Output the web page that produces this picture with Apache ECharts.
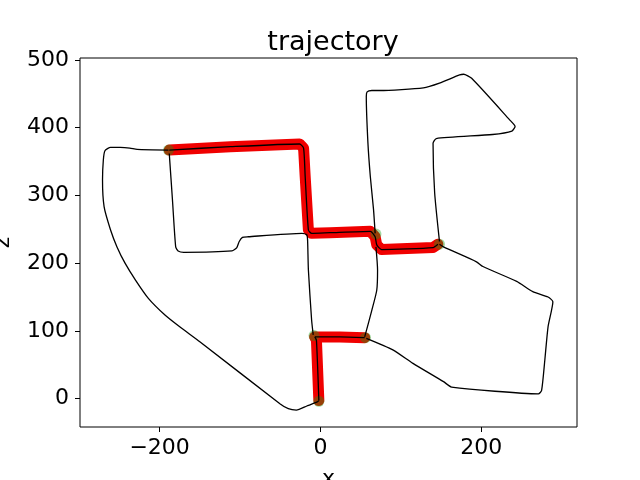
<!DOCTYPE html>
<html>
<head>
<meta charset="utf-8">
<script src="https://cdn.jsdelivr.net/npm/echarts@6/dist/echarts.min.js"></script>
<style>
  html, body { margin: 0; padding: 0; background: #fff; }
  #chart { width: 640px; height: 480px; }
</style>
</head>
<body>
<div id="chart"></div>
<script>
// ground truth trajectory, split at the junctions (x, z)
const leftLoop = [
  [-189, 367], [-228, 368], [-237, 370], [-249, 371], [-261, 371], [-268, 366],
  [-270, 352], [-271, 323], [-269, 283], [-261, 249], [-253, 224], [-243, 200],
  [-230, 175], [-214, 148], [-193, 123], [-175, 106], [-150, 84], [-50, -8],
  [-40, -15], [-30, -17], [-17, -11], [-4, -5], [-2, -3]
];
const westSpur = [
  [-188, 362], [-184, 293], [-180, 224], [-177, 218], [-170, 216], [-110, 218],
  [-104, 223], [-101, 232], [-97, 238], [-90, 239], [-23, 244], [-17, 242],
  [-16, 234], [-15, 190], [-11, 116], [-9, 94]
];
const redTop = [
  [-188, 367], [-112, 372], [-26, 376], [-21, 370], [-19, 328], [-15, 249],
  [-11, 244], [12, 245], [62, 247], [68, 239], [70, 227], [76, 220],
  [140, 223], [146, 228]
];
const northLoop = [
  [68, 244], [66, 279], [62, 328], [59, 378], [57, 446], [58, 453], [64, 455],
  [74, 455], [128, 459], [148, 466], [173, 478], [178, 479], [188, 473],
  [235, 412], [242, 402], [238, 395], [214, 390], [144, 384], [140, 377],
  [142, 304], [148, 232]
];
const middleLink = [
  [69, 224], [71, 190], [70, 160], [64, 131], [55, 91]
];
const eastLoop = [
  [148, 228], [153, 224], [194, 202], [202, 195], [244, 173], [264, 158],
  [283, 150], [289, 143], [283, 106], [279, 57], [275, 12], [271, 7],
  [163, 17], [153, 25], [115, 52], [90, 72], [57, 89]
];
const redSouthEast = [[-7, 91], [24, 91], [55, 90]];
const redSouth = [[-7, 91], [-5, 86], [-2, -3]];

const redPaths = [redTop, redSouthEast, redSouth];
const blackPaths = [leftLoop, westSpur, redTop, northLoop, middleLink, eastLoop, redSouthEast, redSouth];
const keyPoints = [[-189, 367], [69, 243], [148, 228], [56, 90], [-8, 93], [-2, -4]];

const xTicks = [-200, 0, 200];
const yTicks = [0, 100, 200, 300, 400, 500];

const font = 'DejaVu Sans';
const chart = echarts.init(document.getElementById('chart'), null, { renderer: 'canvas' });

const series = [];
redPaths.forEach(path => {
  series.push({
    type: 'line',
    data: path,
    symbol: 'none',
    z: 1,
    lineStyle: { color: '#f00000', width: 11, cap: 'round', join: 'round' }
  });
});
series.push({
  type: 'scatter',
  data: keyPoints,
  symbolSize: 11,
  z: 2,
  itemStyle: { color: 'rgba(20,160,20,0.5)' }
});
blackPaths.forEach(path => {
  series.push({
    type: 'line',
    data: path,
    symbol: 'none',
    smooth: 0.2,
    z: 3,
    lineStyle: { color: '#000', width: 1.3 }
  });
});

chart.setOption({
  animation: false,
  title: {
    text: 'trajectory',
    left: 328,
    top: 24,
    textAlign: 'center',
    textStyle: { fontFamily: font, fontSize: 27, fontWeight: 'normal', color: '#000' }
  },
  grid: {
    left: 80, right: 63, top: 58, bottom: 53,
    containLabel: false,
    outerBoundsMode: 'none',
    show: true, borderColor: '#000', borderWidth: 1
  },
  xAxis: {
    type: 'value',
    min: -299,
    max: 319,
    name: 'x',
    nameLocation: 'middle',
    nameGap: 41,
    nameTextStyle: { fontFamily: font, fontSize: 22, color: '#000' },
    axisLine: { show: false, onZero: false },
    axisTick: { show: true, inside: false, length: 5, customValues: xTicks, lineStyle: { color: '#000' } },
    axisLabel: {
      customValues: xTicks,
      margin: 10,
      fontFamily: font, fontSize: 22, color: '#000',
      formatter: v => String(v).replace('-', '\u2212')
    },
    splitLine: { show: false }
  },
  yAxis: {
    type: 'value',
    min: -42,
    max: 503,
    name: 'z',
    nameLocation: 'middle',
    nameRotate: 90,
    nameGap: 66,
    nameTextStyle: { fontFamily: font, fontSize: 22, color: '#000' },
    axisLine: { show: false, onZero: false },
    axisTick: { show: true, inside: false, length: 5, customValues: yTicks, lineStyle: { color: '#000' } },
    axisLabel: {
      customValues: yTicks,
      margin: 11,
      fontFamily: font, fontSize: 22, color: '#000'
    },
    splitLine: { show: false }
  },
  series: series
});
</script>
</body>
</html>
